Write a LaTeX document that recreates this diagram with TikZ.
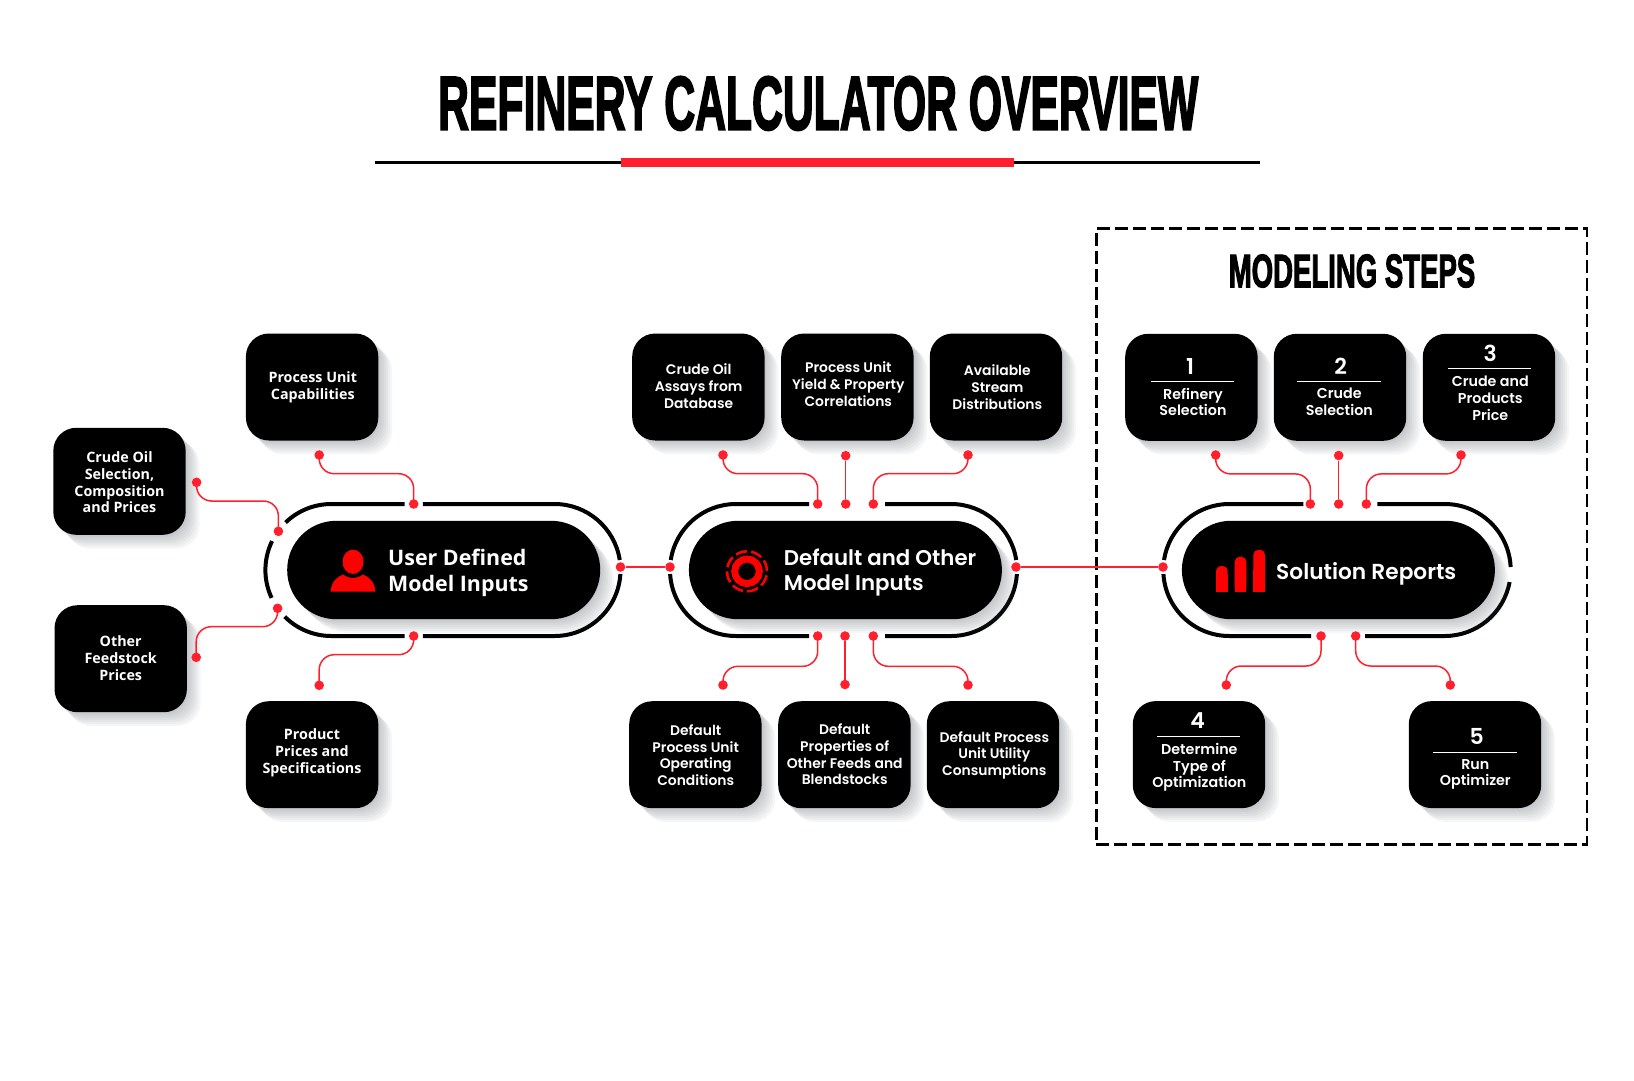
\documentclass[tikz,border=0pt]{standalone}
\usepackage{fontspec}
\setmainfont{Poppins SemiBold}
\newfontfamily\leftfont{Open Sans}[BoldFont={Open Sans Bold}]
\newfontfamily\titlefont{Liberation Sans Bold}[FakeBold=3]
\usepackage{graphicx}
\definecolor{wirered}{HTML}{FF1F2D}
\definecolor{iconred}{HTML}{FF0000}
\definecolor{shadowc}{HTML}{5E666E}
\newcommand\softshadow[5]{\foreach \k in {1,...,7}{\fill[shadowc,opacity=.06,rounded corners=#5pt] ($(#1,#2)+(\k*2,-\k*2)$) rectangle ($(#3,#4)+(\k*2,-\k*2)$);}}
\newcommand\bx[7]{% name, x1, y1, tx, ty, font, text
  \softshadow{#2-0.7}{#3+0.7}{#2+131.7}{#3-106.3}{23}
  \node[boxshape,anchor=north west] (#1) at (#2-0.7,#3+0.7) {};
  \node[#6] (#1t) at (#4,#5) {#7};
}
\newcommand\zwire[3]{\draw[wire] (#1.center) -- (#1.center |- 0,#3) -- (#2.center |- 0,#3) -- (#2.center);}
\usetikzlibrary{calc}
\tikzset{
  x=1pt,y=1pt,
  boxshape/.style={fill=black,rounded corners=23pt,minimum width=132.4pt,minimum height=107pt,inner sep=0pt},
  pillshape/.style={fill=black,rounded corners=49pt,minimum width=313pt,minimum height=98.4pt,inner sep=0pt,anchor=north west},
  dot/.style={circle,fill=wirered,inner sep=0pt,minimum size=9.6pt},
  wire/.style={draw=wirered,line width=1.5pt,rounded corners=15pt},
  ring/.style={draw=black,line width=4pt},
  ltxt/.style={text=white,align=center,font=\leftfont\bfseries\fontsize{14.3}{16.8}\selectfont,inner sep=0pt},
  mtxt/.style={text=white,align=center,font=\fontsize{13.9}{16.7}\selectfont,inner sep=0pt},
  rtxt/.style={text=white,align=center,font=\fontsize{14.3}{16.7}\selectfont,inner sep=0pt},
  num/.style={text=white,font=\fontsize{22}{24}\selectfont,inner sep=0pt},
  sep/.style={draw=white,line width=.8pt},
  pilltxt/.style={text=white,align=left,anchor=west,font=\fontsize{21.3}{25.3}\selectfont,inner sep=0pt},
}
\begin{document}
\begin{tikzpicture}
\useasboundingbox (0,0) rectangle (1634,-1080);
% title
\node[inner sep=0pt] (title) at (818.2,-103.4) {\resizebox{760pt}{53pt}{\titlefont REFINERY CALCULATOR OVERVIEW}};
\fill[black] (375.3,-160.8) rectangle (1260,-163.8);
\fill[wirered] (621,-158.3) rectangle (1014.3,-166.7);
% steps frame
\node[draw=black,line width=2.4pt,dash pattern=on 13pt off 5pt,minimum width=490.7pt,minimum height=616pt,inner sep=0pt,anchor=north west] (frame) at (1095.2,-227.2) {};
\node[inner sep=0pt] (stepstitle) at (1352,-271) {\resizebox{246.5pt}{32.6pt}{\titlefont MODELING STEPS}};

% rings
\draw[ring] (404.6,-504) -- (331.4,-504) arc (90:134:66);
\draw[ring] ($(331.4,-570)+(154:66)$) arc (154:205:66);
\draw[ring] ($(331.4,-570)+(225:66)$) arc (225:270:66) -- (404.6,-636);
\draw[ring] (422.8,-636) -- (554.5,-636) arc (-90:-3.5:66);
\draw[ring] ($(554.5,-570)+(8.7:66)$) arc (8.7:90:66) -- (422.8,-504);

\draw[ring] (809,-504) -- (736,-504) arc (90:171.3:66);
\draw[ring] ($(736,-570)+(183.5:66)$) arc (183.5:270:66) -- (809,-636);
\draw[ring] (885,-636) -- (951,-636) arc (-90:-3.5:66);
\draw[ring] ($(951,-570)+(8.7:66)$) arc (8.7:90:66) -- (885,-504);

\draw[ring] (1303.3,-504) -- (1229.3,-504) arc (90:171.3:66);
\draw[ring] ($(1229.3,-570)+(183.5:66)$) arc (183.5:270:66) -- (1311,-636);
\draw[ring] (1365,-636) -- (1444.7,-636) arc (-90:-10.5:66);
\draw[ring] ($(1444.7,-570)+(2.6:66)$) arc (2.6:90:66) -- (1377.3,-504);

% pills
\softshadow{287}{-520.6}{600}{-619}{49}
\softshadow{688.7}{-520.6}{1001.7}{-619}{49}
\softshadow{1181.7}{-520.6}{1494.7}{-619}{49}
\node[pillshape] (pa) at (287,-520.6) {};
\node[pillshape] (pb) at (688.7,-520.6) {};
\node[pillshape] (pc) at (1181.7,-520.6) {};
\node[pilltxt,font=\leftfont\bfseries\fontsize{21.4}{25.3}\selectfont] (pat) at (388,-572.8) {User Defined\\Model Inputs};
\node[pilltxt] (pbt) at (783.7,-572.8) {Default and Other\\Model Inputs};
\node[pilltxt,font=\fontsize{21.7}{25.3}\selectfont] (pct) at (1276,-573.5) {Solution Reports};

% icons
\fill[iconred] (353,-561.8) ellipse (10.5 and 12.2);
\fill[iconred] (330.6,-591.7) .. controls (331.5,-582) and (336,-577) .. (343.5,-574.5) .. controls (348,-579) and (358,-579) .. (362.5,-574.5) .. controls (370,-577) and (374.5,-582) .. (375.3,-591.7) -- cycle;
\draw[iconred,line width=7pt] (747,-571.3) circle (12.3);
\draw[iconred,line width=2.6pt,dash pattern=on 11.5pt off 4.2pt] (747,-571.3) circle (20);
\fill[iconred,rounded corners=5pt] (1216,-592) -- (1216,-566) -- (1227.7,-566) -- (1227.7,-592) -- cycle;
\fill[iconred] (1216,-592) rectangle (1227.7,-575);
\fill[iconred,rounded corners=5pt] (1234.7,-592) -- (1234.7,-556.7) -- (1246.3,-556.7) -- (1246.3,-592) -- cycle;
\fill[iconred] (1234.7,-592) rectangle (1246.3,-570);
\fill[iconred,rounded corners=5pt] (1253.3,-592) -- (1253.3,-549.8) -- (1265,-549.8) -- (1265,-592) -- cycle;
\fill[iconred] (1253.3,-592) rectangle (1265,-570);

% boxes
\bx{a1}{246.4}{-334}{312.8}{-387.2}{ltxt}{Process Unit\\Capabilities}
\bx{a2}{53.8}{-428.3}{119.5}{-482.3}{ltxt}{Crude Oil\\Selection,\\Composition\\and Prices}
\bx{a3}{55}{-605.7}{120.7}{-658.3}{ltxt}{Other\\Feedstock\\Prices}
\bx{a4}{246.4}{-701.7}{312}{-752.8}{ltxt}{Product\\Prices and\\Specifications}

\bx{b1}{632.7}{-334}{698.7}{-386.3}{mtxt}{Crude Oil\\Assays from\\Database}
\bx{b2}{781.7}{-334}{848.3}{-384.3}{mtxt}{Process Unit\\Yield \& Property\\Correlations}
\bx{b3}{930.3}{-334}{997.3}{-387.3}{mtxt}{Available\\Stream\\Distributions}
\bx{b4}{629.7}{-701.7}{695.7}{-755.2}{mtxt}{Default\\Process Unit\\Operating\\Conditions}
\bx{b5}{778.7}{-701.7}{844.7}{-754.5}{mtxt}{Default\\Properties of\\Other Feeds and\\Blendstocks}
\bx{b6}{927.3}{-701.7}{994.3}{-755.3}{mtxt}{Default Process\\Unit Utility\\Consumptions}

\bx{c1}{1125.7}{-334.3}{1193}{-402}{rtxt}{Refinery\\Selection}
\bx{c2}{1274.3}{-334.3}{1339.3}{-402}{rtxt}{Crude\\Selection}
\bx{c3}{1423.3}{-334.3}{1490.3}{-398.4}{rtxt}{Crude and\\Products\\Price}
\bx{c4}{1133.3}{-701.6}{1199.3}{-767.5}{rtxt}{Determine\\Type of\\Optimization}
\bx{c5}{1409.3}{-701.6}{1475.3}{-774.4}{rtxt}{Run\\Optimizer}
\node[num] (n1) at (1190,-366) {1};
\node[num] (n2) at (1340.7,-366) {2};
\node[num] (n3) at (1490.3,-353.5) {3};
\node[num] (n4) at (1197.7,-720.8) {4};
\node[num] (n5) at (1476.7,-736.7) {5};
\draw[sep] (1151,-381.2) -- (1234,-381.2);
\draw[sep] (1297.3,-381.2) -- (1380.7,-381.2);
\draw[sep] (1448.3,-368.6) -- (1531.3,-368.6);
\draw[sep] (1157.3,-736.7) -- (1240,-736.7);
\draw[sep] (1433.3,-752.2) -- (1516.7,-752.2);

% dots
\foreach \n/\x/\y in {
 A1s/319.2/-455, A1t/413.7/-504, A2s/196.6/-482.3, A2t/278.4/-531.3,
 A3s/196.2/-657.3, A3t/277.6/-608.3, A4s/319.2/-685.3, A4t/413.7/-636,
 AR/620.5/-567, BL/670/-567, BR/1016/-567, CL/1163/-567,
 B1s/723/-455, B1t/817.7/-504, B2s/845.7/-455.7, B2t/845.7/-504, B3s/968/-455, B3t/873.3/-504,
 B4s/723/-685, B4t/817.7/-636, B5s/845/-684.5, B5t/845/-636, B6s/968/-685, B6t/873.3/-636,
 C1s/1215.7/-455, C1t/1310.3/-504, C2s/1338.7/-455.5, C2t/1338.7/-504, C3s/1461/-455, C3t/1366.3/-504,
 C4s/1226.3/-685, C4t/1321/-636, C5s/1450.3/-685, C5t/1355.7/-636}
 {\node[dot] (\n) at (\x,\y) {};}

% connectors
\zwire{A1s}{A1t}{-473.7}
\zwire{A2s}{A2t}{-501}
\zwire{A3s}{A3t}{-626.7}
\zwire{A4s}{A4t}{-654.7}
\zwire{B1s}{B1t}{-473.7}
\zwire{B3s}{B3t}{-473.7}
\zwire{B4s}{B4t}{-666.3}
\zwire{B6s}{B6t}{-666.3}
\zwire{C1s}{C1t}{-473.9}
\zwire{C3s}{C3t}{-473.9}
\zwire{C4s}{C4t}{-666}
\zwire{C5s}{C5t}{-666}
\draw[wire] (B2s) -- (B2t);
\draw[wire] (B5s) -- (B5t);
\draw[wire] (C2s) -- (C2t);
\draw[wire] (AR) -- (BL);
\draw[wire] (BR) -- (CL);
\end{tikzpicture}
\end{document}
